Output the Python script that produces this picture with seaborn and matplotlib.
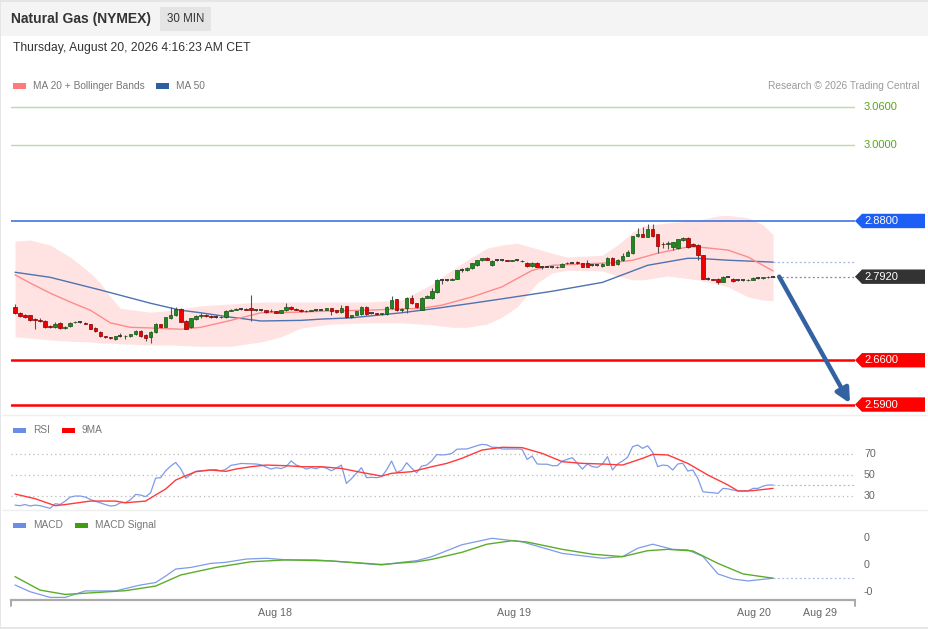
import numpy as np
import pandas as pd
import matplotlib
matplotlib.use("Agg")
import matplotlib.pyplot as plt
import seaborn as sns
from matplotlib.patches import Polygon, Rectangle

# 30 min bars, bar 0 = first bar shown
opens = [2.744, 2.735, 2.731, 2.731, 2.725, 2.724, 2.722, 2.714, 2.712, 2.719,
         2.711, 2.714, 2.720, 2.720, 2.719, 2.717, 2.711, 2.705, 2.698, 2.696,
         2.693, 2.698, 2.698, 2.698, 2.701, 2.706, 2.700, 2.697, 2.704, 2.717,
         2.713, 2.726, 2.731, 2.741, 2.722, 2.712, 2.725, 2.730, 2.731, 2.730,
         2.729, 2.729, 2.728, 2.738, 2.740, 2.741, 2.741, 2.743, 2.739, 2.739,
         2.739, 2.737, 2.737, 2.735, 2.739, 2.744, 2.741, 2.740, 2.737, 2.738,
         2.739, 2.740, 2.740, 2.742, 2.739, 2.736, 2.745, 2.728, 2.732, 2.733,
         2.744, 2.734, 2.734, 2.733, 2.733, 2.742, 2.756, 2.739, 2.742, 2.759,
         2.750, 2.740, 2.759, 2.758, 2.768, 2.786, 2.787, 2.787, 2.789, 2.803,
         2.802, 2.805, 2.810, 2.818, 2.822, 2.810, 2.818, 2.818, 2.818, 2.817,
         2.818, 2.817, 2.814, 2.809, 2.814, 2.808, 2.808, 2.807, 2.807, 2.808,
         2.813, 2.814, 2.815, 2.813, 2.813, 2.810, 2.810, 2.809, 2.811, 2.822,
         2.812, 2.818, 2.825, 2.829, 2.857, 2.860, 2.855, 2.867, 2.859, 2.844,
         2.844, 2.839, 2.837, 2.850, 2.853, 2.844, 2.842, 2.826, 2.789, 2.788,
         2.789, 2.784, 2.792, 2.789, 2.786, 2.786, 2.786, 2.787, 2.790, 2.790,
         2.791, 2.792]
closes = [2.734, 2.730, 2.728, 2.723, 2.724, 2.722, 2.713, 2.712, 2.718, 2.711,
          2.713, 2.719, 2.721, 2.720, 2.718, 2.710, 2.706, 2.698, 2.696, 2.695,
          2.698, 2.698, 2.699, 2.701, 2.706, 2.698, 2.695, 2.705, 2.717, 2.712,
          2.728, 2.731, 2.741, 2.721, 2.710, 2.726, 2.730, 2.731, 2.730, 2.729,
          2.729, 2.728, 2.738, 2.740, 2.741, 2.741, 2.740, 2.739, 2.739, 2.739,
          2.736, 2.738, 2.735, 2.739, 2.744, 2.741, 2.740, 2.737, 2.738, 2.739,
          2.739, 2.740, 2.742, 2.738, 2.736, 2.742, 2.728, 2.731, 2.737, 2.744,
          2.733, 2.734, 2.733, 2.734, 2.744, 2.755, 2.739, 2.741, 2.759, 2.750,
          2.744, 2.759, 2.762, 2.769, 2.787, 2.786, 2.787, 2.789, 2.802, 2.803,
          2.806, 2.813, 2.818, 2.821, 2.819, 2.817, 2.818, 2.818, 2.817, 2.818,
          2.818, 2.816, 2.809, 2.814, 2.808, 2.808, 2.808, 2.807, 2.808, 2.812,
          2.814, 2.814, 2.813, 2.808, 2.808, 2.810, 2.810, 2.812, 2.822, 2.811,
          2.819, 2.825, 2.831, 2.856, 2.860, 2.855, 2.867, 2.856, 2.840, 2.843,
          2.845, 2.846, 2.851, 2.853, 2.839, 2.841, 2.826, 2.789, 2.789, 2.787,
          2.784, 2.792, 2.792, 2.785, 2.786, 2.786, 2.787, 2.790, 2.790, 2.791,
          2.792, 2.792]
highs = [2.749, 2.736, 2.733, 2.732, 2.727, 2.727, 2.724, 2.715, 2.721, 2.720,
         2.714, 2.721, 2.722, 2.722, 2.720, 2.718, 2.712, 2.706, 2.699, 2.697,
         2.699, 2.703, 2.700, 2.702, 2.707, 2.707, 2.701, 2.706, 2.719, 2.718,
         2.729, 2.744, 2.744, 2.742, 2.723, 2.727, 2.731, 2.734, 2.733, 2.732,
         2.731, 2.730, 2.739, 2.741, 2.743, 2.743, 2.742, 2.763, 2.740, 2.740,
         2.740, 2.741, 2.738, 2.740, 2.751, 2.745, 2.742, 2.741, 2.739, 2.740,
         2.741, 2.741, 2.743, 2.743, 2.740, 2.748, 2.746, 2.732, 2.738, 2.745,
         2.745, 2.735, 2.735, 2.735, 2.745, 2.761, 2.757, 2.743, 2.760, 2.763,
         2.751, 2.760, 2.763, 2.774, 2.788, 2.788, 2.789, 2.790, 2.803, 2.806,
         2.807, 2.814, 2.819, 2.822, 2.823, 2.818, 2.820, 2.819, 2.819, 2.819,
         2.819, 2.818, 2.815, 2.815, 2.815, 2.809, 2.809, 2.808, 2.809, 2.813,
         2.815, 2.815, 2.816, 2.814, 2.818, 2.811, 2.811, 2.813, 2.823, 2.823,
         2.820, 2.830, 2.834, 2.857, 2.869, 2.871, 2.875, 2.876, 2.860, 2.846,
         2.849, 2.847, 2.852, 2.854, 2.854, 2.845, 2.843, 2.827, 2.791, 2.789,
         2.790, 2.793, 2.793, 2.790, 2.787, 2.787, 2.788, 2.791, 2.791, 2.792,
         2.793, 2.793]
lows = [2.733, 2.729, 2.727, 2.722, 2.709, 2.720, 2.711, 2.711, 2.711, 2.710,
        2.710, 2.713, 2.719, 2.719, 2.717, 2.709, 2.705, 2.697, 2.695, 2.694,
        2.692, 2.697, 2.694, 2.697, 2.700, 2.697, 2.691, 2.687, 2.703, 2.711,
        2.712, 2.725, 2.730, 2.720, 2.709, 2.711, 2.724, 2.727, 2.728, 2.727,
        2.727, 2.727, 2.727, 2.737, 2.739, 2.739, 2.739, 2.722, 2.738, 2.738,
        2.735, 2.736, 2.734, 2.734, 2.738, 2.740, 2.739, 2.736, 2.736, 2.737,
        2.738, 2.739, 2.739, 2.731, 2.735, 2.735, 2.727, 2.727, 2.731, 2.732,
        2.732, 2.733, 2.732, 2.732, 2.732, 2.741, 2.738, 2.736, 2.734, 2.749,
        2.743, 2.739, 2.758, 2.757, 2.767, 2.781, 2.785, 2.786, 2.788, 2.800,
        2.801, 2.804, 2.809, 2.817, 2.818, 2.809, 2.817, 2.817, 2.816, 2.816,
        2.817, 2.815, 2.808, 2.808, 2.807, 2.804, 2.807, 2.806, 2.806, 2.807,
        2.812, 2.813, 2.812, 2.807, 2.807, 2.809, 2.809, 2.808, 2.810, 2.810,
        2.811, 2.817, 2.824, 2.828, 2.855, 2.854, 2.854, 2.855, 2.829, 2.837,
        2.836, 2.834, 2.836, 2.849, 2.838, 2.840, 2.818, 2.788, 2.787, 2.786,
        2.781, 2.783, 2.791, 2.784, 2.785, 2.785, 2.785, 2.786, 2.789, 2.789,
        2.790, 2.791]

# moving averages and Bollinger envelope, read at the listed bars
ma20_idx = [0, 3, 7, 11, 15, 19, 23, 27, 33, 37, 43, 49, 57, 63, 70, 77, 81, 85,
            91, 97, 103, 107, 113, 119, 123, 128, 134, 136, 142, 146, 151]
ma20_val = [2.795, 2.782, 2.766, 2.752, 2.739, 2.719, 2.712, 2.711, 2.709, 2.712,
            2.723, 2.735, 2.736, 2.738, 2.739, 2.741, 2.742, 2.747, 2.760, 2.776,
            2.802, 2.810, 2.812, 2.814, 2.818, 2.829, 2.839, 2.839, 2.834, 2.823,
            2.801]
ma50_idx = [0, 7, 17, 27, 33, 37, 43, 49, 57, 61, 67, 77, 83, 91, 97, 107, 117,
            121, 126, 134, 136, 142, 151]
ma50_val = [2.799, 2.791, 2.771, 2.750, 2.739, 2.735, 2.728, 2.722, 2.723, 2.725,
            2.727, 2.735, 2.741, 2.750, 2.757, 2.769, 2.783, 2.795, 2.810, 2.821,
            2.821, 2.818, 2.815]
band_idx = [0, 3, 7, 11, 15, 17, 19, 21, 27, 31, 37, 43, 49, 53, 57, 63, 70, 77,
            83, 87, 90, 94, 97, 100, 104, 107, 110, 117, 120, 123, 125, 130, 136,
            140, 142, 146, 149, 151]
band_up = [2.848, 2.850, 2.842, 2.823, 2.798, 2.782, 2.760, 2.742, 2.736, 2.739,
           2.746, 2.749, 2.752, 2.752, 2.752, 2.752, 2.752, 2.755, 2.780, 2.802,
           2.818, 2.837, 2.842, 2.845, 2.836, 2.829, 2.823, 2.826, 2.842, 2.862,
           2.872, 2.877, 2.881, 2.888, 2.889, 2.885, 2.874, 2.858]
band_lo = [2.697, 2.695, 2.692, 2.690, 2.689, 2.687, 2.687, 2.686, 2.684, 2.684,
           2.682, 2.682, 2.689, 2.697, 2.711, 2.717, 2.719, 2.719, 2.716, 2.712,
           2.712, 2.717, 2.728, 2.744, 2.782, 2.798, 2.802, 2.801, 2.793, 2.787,
           2.787, 2.793, 2.787, 2.780, 2.776, 2.760, 2.755, 2.754]

# key levels
res_levels = [3.06, 3.00]
pivot = 2.88
sup_levels = [2.66, 2.59]

# RSI (one value per bar) and its 9 period average
rsi = [21.4, 20.8, 21.9, 20.5, 21.4, 20.8, 19.5, 18.3, 22.7, 22.0,
       25.2, 29.0, 30.0, 30.0, 29.0, 26.8, 25.0, 23.5, 21.8, 20.5,
       21.0, 23.6, 23.8, 26.5, 31.5, 31.0, 29.4, 33.0, 47.0, 47.5,
       54.0, 58.5, 62.0, 56.0, 47.0, 50.5, 53.5, 54.1, 54.5, 55.0,
       55.2, 54.0, 55.5, 59.2, 60.0, 61.0, 60.8, 60.5, 60.5, 59.8,
       57.6, 55.7, 57.0, 56.2, 58.0, 63.5, 59.5, 58.0, 55.7, 57.0,
       56.0, 57.9, 56.5, 54.1, 56.5, 59.5, 42.0, 46.5, 51.6, 57.0,
       47.5, 47.8, 47.5, 48.4, 54.8, 63.3, 52.5, 54.5, 61.7, 56.5,
       52.2, 58.5, 59.5, 63.5, 69.5, 69.1, 69.5, 70.6, 74.5, 74.8,
       74.8, 76.4, 77.9, 79.2, 78.7, 76.4, 76.4, 74.8, 74.8, 74.8,
       74.8, 74.5, 64.9, 68.1, 60.5, 60.3, 60.3, 58.9, 58.9, 63.3,
       64.9, 66.5, 61.1, 55.7, 60.5, 58.0, 57.3, 60.5, 67.5, 54.8,
       60.5, 63.3, 66.9, 77.0, 78.6, 75.4, 77.9, 71.6, 58.0, 59.5,
       59.0, 54.8, 60.5, 61.3, 53.8, 54.8, 46.8, 34.1, 33.5, 33.2,
       32.5, 37.3, 36.8, 35.7, 34.8, 34.8, 35.0, 37.3, 37.3, 39.5,
       40.5, 40.5]
rsi_ma_idx = [0, 4, 8, 10, 15, 20, 22, 26, 28, 30, 32, 34, 36, 39, 42, 44, 47,
              50, 54, 57, 61, 65, 69, 73, 75, 79, 83, 86, 89, 93, 97, 101, 105,
              109, 113, 117, 121, 125, 127, 130, 134, 138, 142, 144, 146, 148, 151]
rsi_ma_val = [31.9, 27.5, 20.8, 21.9, 25.2, 25.2, 23.6, 25.2, 31.0, 36.7, 45.2,
              49.3, 53.2, 54.8, 53.5, 55.7, 57.9, 59.5, 58.9, 57.9, 57.9, 56.3,
              52.5, 49.0, 51.6, 53.2, 57.9, 61.1, 65.9, 73.8, 76.4, 76.1, 70.6,
              62.7, 61.1, 60.5, 59.5, 65.9, 69.7, 69.1, 61.1, 50.0, 40.5, 34.8,
              34.8, 35.7, 37.3]

# MACD and signal
macd_idx = [0, 3, 7, 10, 14, 20, 25, 28, 30, 32, 35, 39, 42, 46, 50, 54, 60, 67,
            73, 77, 80, 83, 86, 89, 95, 101, 109, 117, 121, 124, 127, 131, 134,
            137, 140, 143, 146, 151]
macd_val = [-0.0074, -0.0099, -0.0120, -0.0120, -0.0096, -0.0096, -0.0074,
            -0.0065, -0.0041, -0.0015, -0.0009, 0.0006, 0.0010, 0.0022, 0.0025,
            0.0019, 0.0019, 0.0009, 0.0000, 0.0010, 0.0016, 0.0031, 0.0053,
            0.0075, 0.0099, 0.0086, 0.0043, 0.0025, 0.0031, 0.0062, 0.0077,
            0.0058, 0.0056, 0.0032, -0.0033, -0.0052, -0.0059, -0.0049]
sig_idx = [0, 5, 10, 17, 22, 28, 33, 40, 47, 54, 63, 73, 80, 83, 89, 94, 99, 102,
           109, 115, 121, 126, 130, 135, 140, 145, 151]
sig_val = [-0.0043, -0.0093, -0.0109, -0.0101, -0.0095, -0.0078, -0.0037,
           -0.0009, 0.0012, 0.0019, 0.0015, 0.0002, 0.0012, 0.0021, 0.0047,
           0.0077, 0.0090, 0.0085, 0.0058, 0.0040, 0.0031, 0.0053, 0.0058,
           0.0052, 0.0006, -0.0033, -0.0049]

day_ticks = [51.8, 99.4, 147.2, 160.4]
day_labels = ["Aug 18", "Aug 19", "Aug 20", "Aug 29"]

sns.set_theme(style="white")
plt.rcParams['font.family'] = ['Liberation Sans', 'DejaVu Sans']

W, H = 929, 629
fig = plt.figure(figsize=(W / 100, H / 100), dpi=100)
fig.patch.set_facecolor('white')


def fx(px):
    return px / W


def fy(py):
    return 1 - py / H


def panel(top, bottom):
    a = fig.add_axes([fx(11), fy(bottom), (855 - 11) / W, (bottom - top) / H])
    a.set_facecolor('none')
    for s in a.spines.values():
        s.set_visible(False)
    a.set_xticks([])
    a.set_yticks([])
    a.set_xlim(-0.8, 167.3)
    return a


# header strip, frame, panel separators
fig.add_artist(Rectangle((0, fy(36)), 1, 36 / H, transform=fig.transFigure,
                         fc='#f4f4f4', ec='none', zorder=0))
fig.add_artist(Rectangle((fx(160), fy(31)), 51 / W, 24 / H, transform=fig.transFigure,
                         fc='#e4e4e4', ec='none', zorder=1))
fig.add_artist(Rectangle((0.0005, 0.0008), 0.999, 0.998, transform=fig.transFigure,
                         fc='none', ec='#e2e2e2', lw=1.2, zorder=0))
for yy in (415, 510):
    fig.add_artist(plt.Line2D([0.002, 0.998], [fy(yy), fy(yy)], transform=fig.transFigure,
                              color='#efefef', lw=1, zorder=0))

fig.text(fx(11), fy(19), "Natural Gas (NYMEX)", fontsize=10, fontweight='bold',
         color='#333333', va='center')
fig.text(fx(186), fy(19), "30 MIN", fontsize=8.3, color='#333333', va='center', ha='center')
fig.text(fx(13), fy(48), "Thursday, August 20, 2026 4:16:23 AM CET", fontsize=8.7,
         color='#333333', va='center')
fig.text(fx(920), fy(86), "Research \u00a9 2026 Trading Central", fontsize=7.3,
         color='#9a9a9a', va='center', ha='right')


def legend_item(x, y, color, label):
    fig.add_artist(Rectangle((fx(x), fy(y + 2.5)), 13 / W, 5 / H, transform=fig.transFigure,
                             fc=color, ec='none'))
    fig.text(fx(x + 20), fy(y), label, fontsize=7.3, color='#777777', va='center')


legend_item(13, 86, '#ff7b7b', "MA 20 + Bollinger Bands")
legend_item(156, 86, '#2f5f9e', "MA 50")
legend_item(13, 430, '#6b8de3', "RSI")
legend_item(62, 430, '#ff0000', "9MA")
legend_item(13, 525, '#6b8de3', "MACD")
legend_item(75, 525, '#3f9e10', "MACD Signal")

# ---------------- price panel ----------------
ax = panel(95, 415)
ax.set_ylim(2.5735, 3.079)

n = len(closes)
idx = np.arange(n)
df = pd.DataFrame({'o': opens, 'h': highs, 'l': lows, 'c': closes}, index=idx)

ax.fill_between(band_idx, band_lo, band_up, color='#ffe3e3', lw=0, zorder=1)
sns.lineplot(x=ma50_idx, y=ma50_val, ax=ax, color='#4f72b0', lw=1, zorder=2)
sns.lineplot(x=ma20_idx, y=ma20_val, ax=ax, color='#ff8a8a', lw=1, zorder=2)

x_end = ax.get_xlim()[1]
for lv in res_levels:
    ax.axhline(lv, color='#bcdba6', lw=1, zorder=1)
ax.axhline(pivot, color='#3f74e0', lw=1.2, zorder=1)
for lv in sup_levels:
    ax.axhline(lv, color='#ff0000', lw=1.8, zorder=1)
ax.plot([idx[-1], x_end], [closes[-1]] * 2, ls=(0, (1.5, 2)), color='#888888', lw=0.9)
ax.plot([ma50_idx[-1], x_end], [ma50_val[-1]] * 2, ls=(0, (1.5, 2)), color='#a5b6dc', lw=0.9)

up = df.c > df.o + 0.0004
down = df.o > df.c + 0.0004
flat = ~(up | down)
ax.vlines(idx, df.l, df.h, color='#555555', lw=0.8, zorder=3)
ax.bar(idx[up], (df.c - df.o)[up], bottom=df.o[up], width=0.72, color='#1d8a1d',
       edgecolor='#135013', lw=0.5, zorder=4)
ax.bar(idx[down], (df.o - df.c)[down], bottom=df.c[down], width=0.72, color='#ee0000',
       edgecolor='#800000', lw=0.5, zorder=4)
ax.hlines(df.c[flat], idx[flat] - 0.4, idx[flat] + 0.4, color='#333333', lw=1.3, zorder=4)

ax.annotate('', xy=(x_end - 1.0, sup_levels[-1] + 0.002), xytext=(n + 0.2, closes[-1]),
            arrowprops=dict(arrowstyle='-|>,head_length=0.7,head_width=0.35',
                            color='#3362a0', lw=3.2, shrinkA=0, shrinkB=0), zorder=6)


def y_px(a, v):
    # data value -> figure fraction (vertical)
    return fig.transFigure.inverted().transform(a.transData.transform((0, v)))[1]


def tag(v, text, fc):
    yc = y_px(ax, v)
    hh = 7.2 / H
    pts = [(fx(855), yc), (fx(862), yc + hh), (fx(925), yc + hh), (fx(925), yc - hh),
           (fx(862), yc - hh)]
    fig.add_artist(Polygon(pts, closed=True, transform=fig.transFigure, fc=fc, ec='none'))
    fig.text(fx(864), yc, text, fontsize=8, color='white', va='center')


for lv in res_levels:
    fig.text(fx(864), y_px(ax, lv), f"{lv:.4f}", fontsize=8, color='#55aa11', va='center')
tag(pivot, f"{pivot:.4f}", '#1d5ef5')
tag(closes[-1], f"{closes[-1]:.4f}", '#333333')
for lv in sup_levels:
    tag(lv, f"{lv:.4f}", '#ff0000')

# ---------------- RSI panel ----------------
ar = panel(418, 512)
ar.set_ylim(14.8, 104.3)
for lv in (30, 50, 70):
    ar.axhline(lv, color='#bbbbbb', lw=0.9, ls=(0, (1, 2.5)))
    fig.text(fx(864), y_px(ar, lv), str(lv), fontsize=7.7, color='#666666', va='center')
sns.lineplot(x=idx, y=rsi, ax=ar, color='#7f9be8', lw=0.9)
sns.lineplot(x=rsi_ma_idx, y=rsi_ma_val, ax=ar, color='#ff3a3a', lw=1)
ar.plot([idx[-1], x_end], [rsi[-1]] * 2, ls=(0, (1.5, 2)), color='#a9bbee', lw=0.9)

# ---------------- MACD panel ----------------
am = panel(514, 600)
am.set_ylim(-0.01296, 0.01889)
sns.lineplot(x=macd_idx, y=macd_val, ax=am, color='#7f9be8', lw=0.9)
sns.lineplot(x=sig_idx, y=sig_val, ax=am, color='#5aad2a', lw=1)
am.plot([macd_idx[-1], x_end], [macd_val[-1]] * 2, ls=(0, (1.5, 2)), color='#a9bbee', lw=0.9)
for v, lab in zip((0.01, 0.0, -0.01), ("0", "0", "-0")):
    fig.text(fx(864), y_px(am, v), lab, fontsize=7.7, color='#666666', va='center')

am.spines['bottom'].set_visible(True)
am.spines['bottom'].set_color('#aaaaaa')
am.spines['bottom'].set_linewidth(1.6)
am.set_xticks(day_ticks)
am.set_xticklabels(day_labels, fontsize=7.7, color='#666666')
am.tick_params(axis='x', length=0, pad=6)
for xe in am.get_xlim():
    am.plot([xe, xe], [0, -0.07], transform=am.get_xaxis_transform(), color='#aaaaaa',
            lw=1.4, clip_on=False)

fig.savefig("out.png", dpi=100, facecolor=fig.get_facecolor())
